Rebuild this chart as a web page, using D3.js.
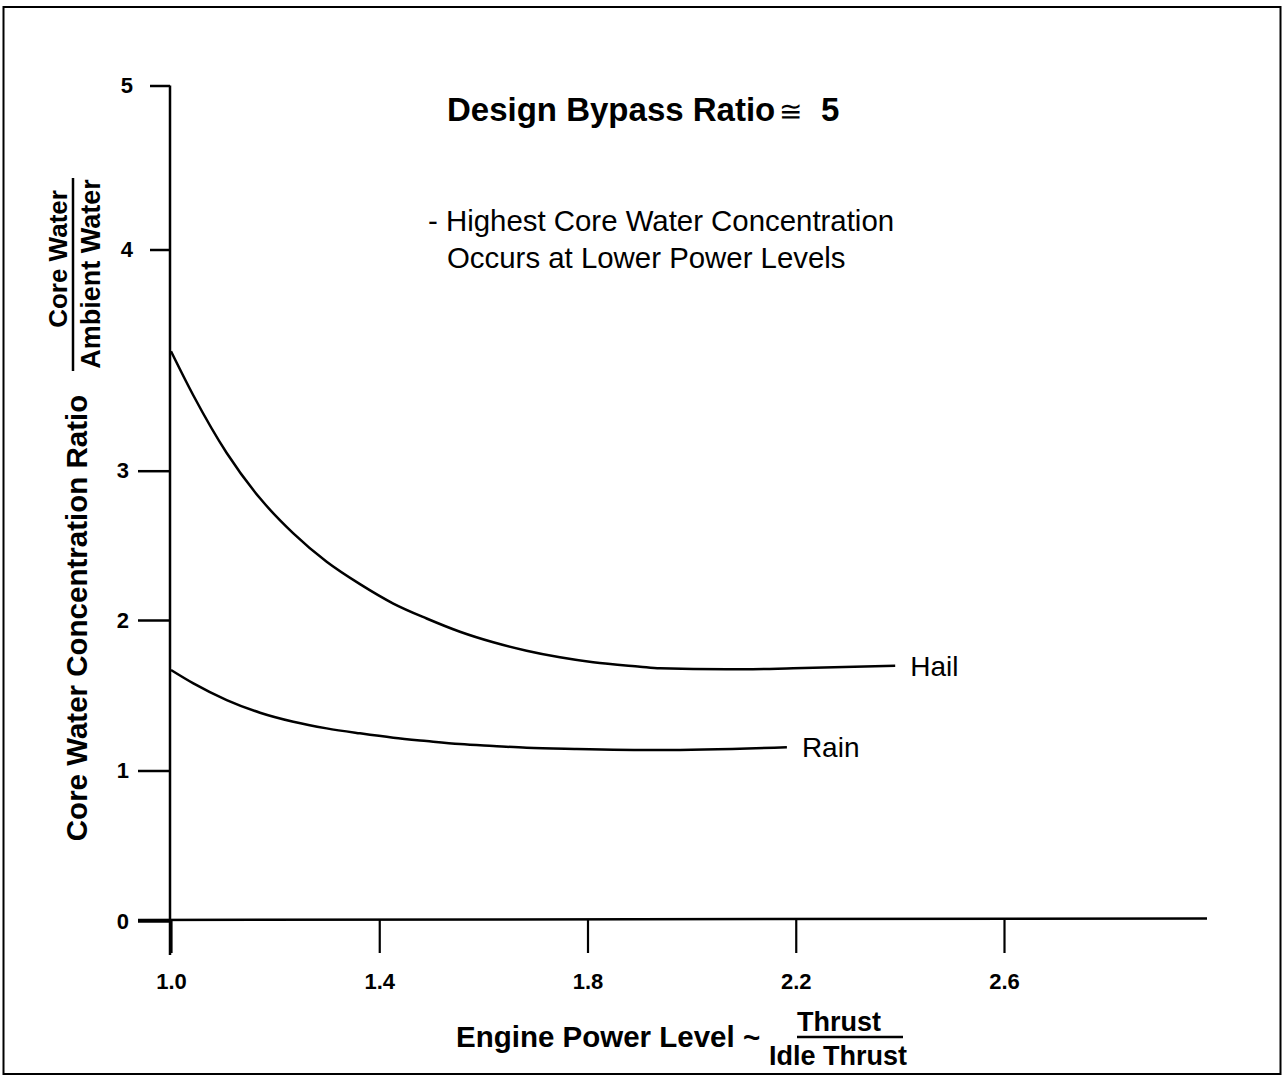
<!DOCTYPE html>
<html>
<head>
<meta charset="utf-8">
<script src="https://cdn.jsdelivr.net/npm/d3@7"></script>
<style>
  html, body { margin: 0; padding: 0; background: #fff; }
  svg { display: block; font-family: "Liberation Sans", Arial, Helvetica, sans-serif; }
</style>
</head>
<body>
<svg id="chart" width="1288" height="1077"></svg>
<script>
// ---- data ----
const xTicks = [1.0, 1.4, 1.8, 2.2, 2.6];
const yTicksLow = [0, 1, 2, 3];
const yTicksHigh = [4, 5];
const yScaleBreaks = [0, 1, 2, 3, 4, 5];

const hailX = [1.0, 1.043, 1.107, 1.171, 1.235, 1.299, 1.363, 1.427, 1.491, 1.555, 1.619, 1.683, 1.747, 1.811, 1.901, 1.939, 2.067, 2.195, 2.391];
const hailY = [3.54, 3.34, 3.08, 2.815, 2.58, 2.39, 2.24, 2.11, 2.01, 1.922, 1.852, 1.796, 1.752, 1.719, 1.690, 1.679, 1.672, 1.679, 1.696];

const rainX = [1.0, 1.043, 1.107, 1.171, 1.235, 1.299, 1.363, 1.427, 1.491, 1.555, 1.619, 1.683, 1.779, 1.939, 2.183];
const rainY = [1.668, 1.579, 1.468, 1.384, 1.324, 1.280, 1.247, 1.218, 1.196, 1.176, 1.163, 1.151, 1.143, 1.136, 1.154];

const seriesNames = ["Hail", "Rain"];
const titleText = "Design Bypass Ratio";
const noteLines = ["- Highest Core Water Concentration", "Occurs at Lower Power Levels"];

// ---- drawing ----
const svg = d3.select("#chart");
const W = 1288, H = 1077;
const FONT = "'Liberation Sans', Arial, Helvetica, sans-serif";

svg.append("rect").attr("x", 0).attr("y", 0).attr("width", W).attr("height", H).attr("fill", "#fff");
// frame
svg.append("rect").attr("x", 3.5).attr("y", 7).attr("width", 1277).attr("height", 1067)
  .attr("fill", "none").attr("stroke", "#000").attr("stroke-width", 2);

// scales (hand-drawn original has uneven y spacing)
const x = d3.scaleLinear().domain([1.0, 2.6]).range([171, 1004]);
const y = d3.scaleLinear().domain(yScaleBreaks).range([921, 770.5, 620, 470.7, 249.5, 85.5]);

const stroke = "#000";

// y axis
const gY = svg.append("g").attr("transform", `translate(${x(1.0) - 1},0)`);
gY.call(d3.axisLeft(y).tickValues(yTicksLow).tickSize(32).tickPadding(9).tickFormat(d3.format("d")));
const gY2 = svg.append("g").attr("transform", `translate(${x(1.0) - 1},0)`);
gY2.call(d3.axisLeft(y).tickValues(yTicksHigh).tickSize(20).tickPadding(17).tickFormat(d3.format("d")));
[gY, gY2].forEach(g => {
  g.select(".domain").remove();
  g.selectAll("line").attr("stroke", stroke).attr("stroke-width", 2.5);
  g.selectAll("text").attr("fill", "#000").style("font-size", "22px").style("font-weight", "bold")
    .style("font-family", FONT);
});
// y axis spine, extending below x axis
svg.append("line").attr("x1", x(1.0) - 1).attr("x2", x(1.0) - 1)
  .attr("y1", y(5)).attr("y2", y(0) + 34).attr("stroke", stroke).attr("stroke-width", 2.5);

// x axis
const gX = svg.append("g").attr("transform", `translate(0,${y(0) - 1})`);
gX.call(d3.axisBottom(x).tickValues(xTicks).tickSize(33).tickPadding(20).tickFormat(d3.format(".1f")));
gX.select(".domain").remove();
gX.selectAll("line").attr("stroke", stroke).attr("stroke-width", 2.2);
gX.selectAll("text").attr("fill", "#000").style("font-size", "22px").style("font-weight", "bold")
  .style("font-family", FONT);
svg.append("line").attr("x1", x(1.0) - 33).attr("x2", 1207)
  .attr("y1", y(0) - 1).attr("y2", y(0) - 2.5).attr("stroke", stroke).attr("stroke-width", 2.5);

// curves
const line = d3.line().x(d => x(d[0])).y(d => y(d[1])).curve(d3.curveMonotoneX);
const hail = hailX.map((v, i) => [v, hailY[i]]);
const rain = rainX.map((v, i) => [v, rainY[i]]);
[hail, rain].forEach(data => {
  svg.append("path").datum(data).attr("d", line)
    .attr("fill", "none").attr("stroke", stroke).attr("stroke-width", 2.5);
});

// series labels
const seriesEnds = [hail[hail.length - 1], rain[rain.length - 1]];
seriesNames.forEach((name, i) => {
  const p = seriesEnds[i];
  svg.append("text").attr("x", x(p[0]) + 15).attr("y", y(p[1]) + 10)
    .style("font-size", "28px").attr("fill", "#000").text(name);
});

// title
const title = svg.append("text").attr("y", 121)
  .style("font-size", "33px").style("font-weight", "bold").attr("fill", "#000");
title.append("tspan").attr("x", 447).text(titleText);
title.append("tspan").attr("x", 779).style("font-weight", "normal").style("font-size", "28px").text("\u2245");
title.append("tspan").attr("x", 821).text("5");

// note
svg.append("text").attr("x", 428).attr("y", 231).style("font-size", "29.4px").attr("fill", "#000").text(noteLines[0]);
svg.append("text").attr("x", 447).attr("y", 268).style("font-size", "29.4px").attr("fill", "#000").text(noteLines[1]);

// x axis title
svg.append("text").attr("x", 456).attr("y", 1047).style("font-size", "29.5px").style("font-weight", "bold")
  .attr("fill", "#000").text("Engine Power Level ~");
svg.append("text").attr("x", 839).attr("y", 1031).attr("text-anchor", "middle").style("font-size", "27px")
  .style("font-weight", "bold").attr("fill", "#000").text("Thrust");
svg.append("line").attr("x1", 797).attr("x2", 903).attr("y1", 1037).attr("y2", 1037)
  .attr("stroke", "#000").attr("stroke-width", 2.5);
svg.append("text").attr("x", 838).attr("y", 1065).attr("text-anchor", "middle").style("font-size", "27px")
  .style("font-weight", "bold").attr("fill", "#000").text("Idle Thrust");

// y axis title
svg.append("text").attr("transform", "translate(87,618) rotate(-90)").attr("text-anchor", "middle")
  .style("font-size", "29.5px").style("font-weight", "bold").attr("fill", "#000")
  .text("Core Water Concentration Ratio");
svg.append("text").attr("transform", "translate(67,259) rotate(-90)").attr("text-anchor", "middle")
  .style("font-size", "26px").style("font-weight", "bold").attr("fill", "#000").text("Core Water");
svg.append("line").attr("x1", 73).attr("x2", 73).attr("y1", 178).attr("y2", 371)
  .attr("stroke", "#000").attr("stroke-width", 2.5);
svg.append("text").attr("transform", "translate(100,274) rotate(-90)").attr("text-anchor", "middle")
  .style("font-size", "27px").style("font-weight", "bold").attr("fill", "#000").text("Ambient Water");
</script>
</body>
</html>
